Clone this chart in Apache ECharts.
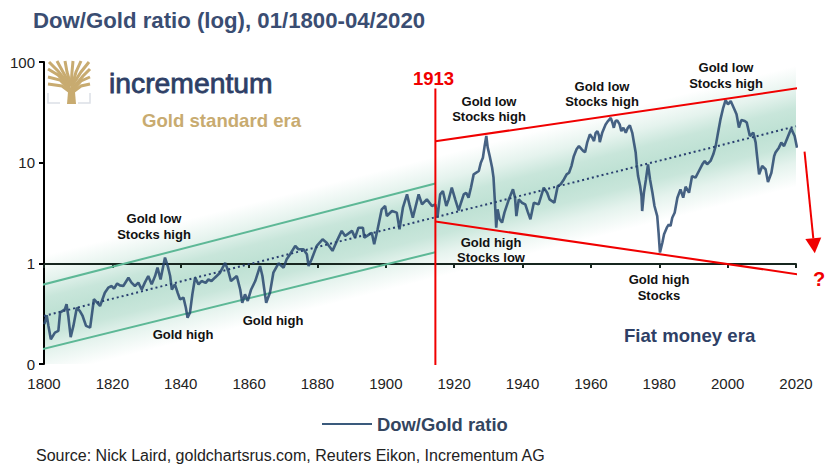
<!DOCTYPE html>
<html>
<head>
<meta charset="utf-8">
<style>
  html, body { margin: 0; padding: 0; background: #fff; }
  #chart { width: 832px; height: 467px; }
</style>
<script src="https://cdn.jsdelivr.net/npm/echarts@6/dist/echarts.min.js"></script>
</head>
<body>
<div id="chart"></div>
<script>
// values, one line per stretch of history
var years = [
    1800.1,1800.8,1801.3,1802,1803.2,1804.2,1804.7,1806.1,1806.6,1807.1,1807.8,1808.6,1809.6,1810.5,1811.3,1812.3,1813.5,1814.6,
    1816.4,1817.8,1818.8,1819.8,1820.5,1821.4,1822.2,1823.2,1824.7,1825.6,1826.6,1827.6,1828.6,1829.5,1830.5,1831.5,1832.5,1833.2,1834.1,
    1835.4,1836.2,1836.9,1837.4,1838.3,1839.1,1839.8,1840.8,1841.5,1842,1842.7,1843.4,1844.2,1845.2,1846.1,1847.3,1848.1,1849,1850,1851.5,1853,1853.9,1854.7,1856.4,1857.4,1858,1858.8,1859.6,1860.6,1861.8,1863.2,1863.9,1865,1866.1,1867.1,1868.6,1870.1,1871,
    1872,1873.5,1874.4,1875.9,1876.9,1877.4,1878.3,1879.8,1881.5,1882.7,1884.4,1885.7,1887.1,1888.1,1890.1,1891,1892,1893.3,1893.7,1895.9,1896.6,1897.6,1898.8,1899.8,1900.3,1901.8,1903.2,1904,1905,1906.2,1906.9,1907.9,1909.6,1910.6,1912,1913.5,
    1914.5,1915.1,1915.9,1916.7,1917.7,1918.4,1919.3,1920.3,1921.3,1922,1922.8,1923.5,1924.2,1924.9,1925.7,1927.2,1927.8,1928.4,1928.9,1929.4,1929.8,1930.4,1931.1,1931.5,1931.9,1932.3,1932.7,1933.3,1934,1934.7,1936,1937.2,1937.8,1938.2,1938.9,1939.8,1940.8,1941.5,1942.3,1943.3,1944.7,1946.2,1947.2,1947.9,1949.3,
    1950.3,1951.1,1952.1,1952.9,1953.6,1954.3,1955,1955.8,1956.5,1957.2,1957.8,1958.3,1958.9,1959.7,1960.4,1960.9,1961.4,1961.9,1962.4,1962.6,1963.3,1964.3,1965,1965.8,1966.3,1966.7,1967.2,1967.7,1968.4,1968.9,1969.5,1970.2,1970.8,1971.4,1972.1,1972.6,1973.1,1973.4,1973.8,1974.4,1974.8,1975,1975.5,1976.1,1976.7,1977.3,1978,1978.6,1979.4,1979.8,1980.2,1980.9,1981.4,1982.2,1982.8,1983.3,1983.8,1984.5,
    1985.3,1986.2,1987,1987.7,1988.7,1989.6,1990.6,1991.6,1992.6,1993.3,1994,1995,1995.8,1996.5,1997.2,1997.9,1998.7,1999.4,2000.1,2000.9,2002,2002.6,2003.3,2004,2005,2005.6,2006.5,2007.5,2008.2,2008.5,2009.2,2010.1,2011.1,2011.8,2012.8,2013.6,2014,2015,2015.7,2016.5,2017.5,2018.6,2019.6,2020.3
];
var ratios = [
    0.248,0.305,0.239,0.176,0.205,0.213,0.324,0.349,0.392,0.3,0.185,0.239,0.363,0.336,0.3,0.239,0.23,0.44,
    0.377,0.51,0.573,0.595,0.56,0.63,0.604,0.595,0.72,0.643,0.595,0.643,0.55,0.643,0.748,0.618,0.748,0.906,0.693,
    1.14,0.94,0.748,0.55,0.618,0.51,0.438,0.456,0.362,0.288,0.323,0.492,0.72,0.618,0.667,0.64,0.693,0.667,0.72,0.807,1.01,0.84,0.667,0.748,0.55,0.406,0.492,0.423,0.55,0.667,0.94,0.748,0.406,0.51,0.807,1,0.906,1.1,
    1.23,1.49,1.38,1.38,1.23,0.94,1.1,1.49,1.73,1.6,1.33,1.67,2.1,1.87,2.1,1.8,2.26,2.26,1.8,2.01,1.55,2.18,3.44,3.71,2.95,3.31,3.19,2.18,3.57,4.84,3.85,2.84,4.84,3.85,4.32,3.71,
    3.85,2.84,4.84,5.22,3.71,4.32,5.64,4.32,3.36,4,4.84,5.03,4.49,5.64,7.65,8.26,10,11.2,14.6,18.4,14.2,11.6,8.9,7.14,4.16,2.26,3.44,2.74,2.54,3.19,4.32,5.43,4.49,2.95,4.32,4,3.85,3.26,2.74,4,3.85,5.64,5.03,4.32,4,
    5.86,6.08,6.82,7.65,7.94,9.25,11.6,13.6,14.6,13.7,13,12.7,15.8,19.1,17.7,16.4,19.8,20.6,18.4,16,19.8,24,25.9,27.9,24.9,22.2,25.9,26.3,24,20.6,22.2,19.8,22.2,23.5,19.8,15.8,12.6,9.6,7.36,5.86,4.66,3.31,5.02,6.82,9.6,6.82,5.02,3.71,2.95,2.01,1.28,1.6,1.94,2.26,2.44,2.35,2.84,3.18,
    4.49,5.43,4.49,5.77,5.03,7.36,7.1,8.26,9.62,10.4,9.62,10.4,12.1,14.6,19.9,26.9,35.1,41.9,37.9,40.9,33.8,30.2,22.3,26.5,25.9,25,18.4,19.9,15.8,12.6,7.65,9.25,8.6,6.42,7.95,11.6,12.6,14.1,15.8,14.6,17.7,21.8,18.4,14.1
];

var trendYears = [1800, 2020];
var trendValues = [0.30, 23];
var goldUpperYears = [1797.7, 1914.5], goldUpperValues = [0.59, 6.2];
var goldLowerYears = [1798.2, 1914.5], goldLowerValues = [0.137, 1.29];
var fiatUpperYears = [1914.5, 2022.3], fiatUpperValues = [16.3, 56];
var fiatLowerYears = [1914.5, 2022.6], fiatLowerValues = [2.6, 0.76];
var split1913Years = [1914.5, 1914.5], split1913Values = [54.7, 0.098];
var arrowYears = [2022.5, 2025.5], arrowValues = [12.9, 1.26];

function pairs(xs, ys) {
    return xs.map(function(x, i) { return [x, ys[i]]; });
}

var red = '#f00000';
var gold = '#c8ab70';
var navy = '#2e3f66';

// labels placed by hand, same spots as the reference
var notes = [
    ['Gold low', 154, 218], ['Stocks high', 154, 234],
    ['Gold high', 183, 334], ['Gold high', 273, 320],
    ['Gold low', 489, 101], ['Stocks high', 489, 116],
    ['Gold low', 602, 86], ['Stocks high', 602, 101],
    ['Gold low', 726, 67], ['Stocks high', 726, 83],
    ['Gold high', 491, 242], ['Stocks low', 491, 257],
    ['Gold high', 659, 279], ['Stocks', 659, 295]
];

var branches = [
    [[70, 92], [62, 86], [48, 84]], [[70, 90], [60, 80], [48, 77]],
    [[70, 88], [58, 75], [48, 69]], [[70, 86], [58, 71], [49, 62]],
    [[71, 86], [63, 72], [57, 61]], [[71, 86], [67, 72], [65, 61]],
    [[71, 86], [72, 72], [73, 61]], [[72, 86], [76, 72], [81, 61]],
    [[72, 86], [81, 72], [89, 62]], [[73, 88], [83, 76], [90, 69]],
    [[73, 90], [81, 81], [90, 77]], [[73, 92], [81, 86], [90, 84]]
];

var graphics = notes.map(function(n) {
    return {
        type: 'text', x: n[1], y: n[2], z: 20,
        style: { text: n[0], font: 'bold 13px "Liberation Sans"', fill: '#111', align: 'center', verticalAlign: 'middle' }
    };
});
graphics.push(
    { type: 'text', x: 413, y: 78, z: 20, style: { text: '1913', font: 'bold 18.5px "Liberation Sans"', fill: red, verticalAlign: 'middle' } },
    { type: 'text', x: 813, y: 279, z: 20, style: { text: '?', font: 'bold 20px "Liberation Sans"', fill: red, verticalAlign: 'middle' } },
    { type: 'text', x: 142, y: 120, z: 20, style: { text: 'Gold standard era', font: 'bold 18.6px "Liberation Sans"', fill: gold, verticalAlign: 'middle' } },
    { type: 'text', x: 624, y: 335, z: 20, style: { text: 'Fiat money era', font: 'bold 18.6px "Liberation Sans"', fill: navy, verticalAlign: 'middle' } },
    { type: 'text', x: 109, y: 83, z: 20, style: { text: 'incrementum', font: '28.3px "Liberation Sans"', fill: navy, stroke: navy, lineWidth: 0.8, verticalAlign: 'middle' } },
    { type: 'text', x: 36, y: 455, style: { text: 'Source: Nick Laird, goldchartsrus.com, Reuters Eikon, Incrementum AG', font: '16px "Liberation Sans"', fill: '#222', verticalAlign: 'middle' } },
    // tree logo
    { type: 'polygon', shape: { points: [[67, 104], [76, 104], [75, 92], [72, 84], [68, 92]] }, style: { fill: gold } },
    { type: 'polyline', shape: { points: [[48, 93], [48, 103], [60, 103]] }, style: { stroke: '#dcdfe6', fill: null, lineWidth: 1.5 } },
    { type: 'polyline', shape: { points: [[90, 93], [90, 103], [78, 103]] }, style: { stroke: '#dcdfe6', fill: null, lineWidth: 1.5 } }
);
branches.forEach(function(b) {
    graphics.push({ type: 'polyline', shape: { points: b }, style: { stroke: gold, fill: null, lineWidth: 3 } });
});

function lineSeries(name, data, color, width, extra) {
    return Object.assign({
        name: name, type: 'line', data: data, symbol: 'none', clip: false, z: 3,
        silent: true, lineStyle: { color: color, width: width }
    }, extra || {});
}

var chart = echarts.init(document.getElementById('chart'), null, { renderer: 'svg' });
chart.setOption({
    animation: false,
    backgroundColor: '#fff',
    textStyle: { fontFamily: '"Liberation Sans", Arial, sans-serif' },
    title: {
        text: 'Dow/Gold ratio (log), 01/1800-04/2020', left: 28, top: 4,
        textStyle: { color: '#3a4d72', fontSize: 22.2, fontWeight: 'bold', fontFamily: '"Liberation Sans"' }
    },
    grid: { left: 44, right: 36, top: 62, bottom: 103 },
    legend: {
        data: [{ name: 'Dow/Gold ratio', icon: 'rect' }], left: 317, top: 410,
        itemWidth: 50, itemHeight: 2, itemGap: 7, selectedMode: false,
        textStyle: { color: '#33455f', fontSize: 18.4, fontWeight: 'bold', fontFamily: '"Liberation Sans"' }
    },
    xAxis: [{
        type: 'value', min: 1800, max: 2020, interval: 20, z: 2,
        splitLine: { show: false }, axisLine: { show: false }, axisTick: { show: false },
        axisLabel: {
            color: '#222', fontSize: 15, margin: 12, showMinLabel: true, showMaxLabel: true,
            formatter: function(v) { return String(v); }
        }
    }, {
        // the black line at ratio 1, with its ticks hanging below it
        type: 'value', min: 1800, max: 2020, interval: 20, position: 'top', offset: -202, z: 2,
        splitLine: { show: false }, axisLabel: { show: false },
        axisLine: { lineStyle: { color: '#17261f', width: 2 } },
        axisTick: { inside: true, length: 4, lineStyle: { color: '#17261f', width: 2 } }
    }],
    yAxis: {
        type: 'log', logBase: 10, min: 0.1, max: 100, z: 2,
        splitLine: { show: false }, minorTick: { show: false },
        axisLine: { show: true, lineStyle: { color: '#000', width: 2 } },
        axisTick: { show: true, length: 5, lineStyle: { color: '#000', width: 2 } },
        axisLabel: {
            color: '#222', fontSize: 15, margin: 9,
            formatter: function(v) { return v < 1 ? '0' : String(v); }
        }
    },
    graphic: graphics,
    series: [
        {
            type: 'custom', name: 'band', z: 1, clip: true, silent: true,
            data: [[trendYears[0], trendValues[0]]],
            renderItem: function(params, api) {
                var a = api.coord([trendYears[0], trendValues[0]]);
                var b = api.coord([trendYears[1], trendValues[1]]);
                var h = a[1] - api.coord([trendYears[0], trendValues[0] * 4])[1];
                var dx = b[0] - a[0], dy = b[1] - a[1], len = Math.sqrt(dx * dx + dy * dy);
                var p = h * dx / len, nx = -dy / len, ny = dx / len;
                var mx = (a[0] + b[0]) / 2, my = (a[1] + b[1]) / 2;
                return {
                    type: 'polygon',
                    shape: { points: [[a[0], a[1] - h], [b[0], b[1] - h], [b[0], b[1] + h], [a[0], a[1] + h]] },
                    style: {
                        fill: new echarts.graphic.LinearGradient(mx - nx * p, my - ny * p, mx + nx * p, my + ny * p, [
                            { offset: 0, color: 'rgba(125,195,168,0)' },
                            { offset: 0.2, color: 'rgba(125,195,168,0.2)' },
                            { offset: 0.35, color: 'rgba(125,195,168,0.42)' },
                            { offset: 0.5, color: 'rgba(125,195,168,0.5)' },
                            { offset: 0.65, color: 'rgba(125,195,168,0.42)' },
                            { offset: 0.8, color: 'rgba(125,195,168,0.2)' },
                            { offset: 1, color: 'rgba(125,195,168,0)' }
                        ], true)
                    }
                };
            }
        },
        lineSeries('trend', pairs(trendYears, trendValues), '#2a3f70', 2, {
            lineStyle: { color: '#2a3f70', width: 2, type: [2, 3] }
        }),
        lineSeries('goldUpper', pairs(goldUpperYears, goldUpperValues), '#5db896', 2),
        lineSeries('goldLower', pairs(goldLowerYears, goldLowerValues), '#5db896', 2),
        lineSeries('Dow/Gold ratio', pairs(years, ratios), 'rgba(40,70,110,0.85)', 2.6, {
            z: 4, itemStyle: { color: '#3a5a7c' }
        }),
        lineSeries('fiatUpper', pairs(fiatUpperYears, fiatUpperValues), red, 2, { z: 5 }),
        lineSeries('fiatLower', pairs(fiatLowerYears, fiatLowerValues), red, 2, { z: 5 }),
        lineSeries('split1913', pairs(split1913Years, split1913Values), red, 2, { z: 5 }),
        {
            type: 'custom', name: 'arrow', z: 5, clip: false, silent: true,
            data: [[arrowYears[0], arrowValues[0]]],
            renderItem: function(params, api) {
                var a = api.coord([arrowYears[0], arrowValues[0]]);
                var b = api.coord([arrowYears[1], arrowValues[1]]);
                var dx = b[0] - a[0], dy = b[1] - a[1], len = Math.sqrt(dx * dx + dy * dy);
                var ux = dx / len, uy = dy / len;
                var bx = b[0] - ux * 15, by = b[1] - uy * 15;
                return {
                    type: 'group',
                    children: [{
                        type: 'line',
                        shape: { x1: a[0], y1: a[1], x2: bx, y2: by },
                        style: { stroke: red, lineWidth: 2 }
                    }, {
                        type: 'polygon',
                        shape: { points: [[b[0], b[1]], [bx - uy * 8, by + ux * 8], [bx + uy * 8, by - ux * 8]] },
                        style: { fill: red }
                    }]
                };
            }
        }
    ]
});
</script>
</body>
</html>
